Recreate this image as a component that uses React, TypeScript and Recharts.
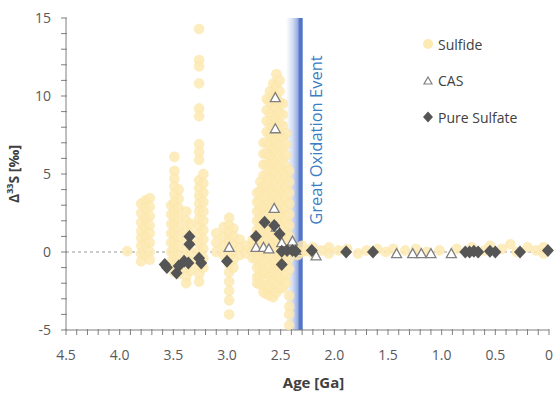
import React from 'react';
import { ScatterChart, Scatter, XAxis, YAxis, ReferenceLine, ReferenceArea, Label } from 'recharts';

// age axis (Ga), reversed: 4.5 on the left, 0 on the right
const xTicks = [
  0, 0.1, 0.2, 0.3, 0.4, 0.5, 0.6, 0.7, 0.8, 0.9, 1.0, 1.1, 1.2, 1.3, 1.4, 1.5,
  1.6, 1.7, 1.8, 1.9, 2.0, 2.1, 2.2, 2.3, 2.4, 2.5, 2.6, 2.7, 2.8, 2.9, 3.0,
  3.1, 3.2, 3.3, 3.4, 3.5, 3.6, 3.7, 3.8, 3.9, 4.0, 4.1, 4.2, 4.3, 4.4, 4.5,
];
const xLabels = [0, 0.5, 1.0, 1.5, 2.0, 2.5, 3.0, 3.5, 4.0, 4.5];
const yTicks = [-5, -4, -3, -2, -1, 0, 1, 2, 3, 4, 5, 6, 7, 8, 9, 10, 11, 12, 13, 14, 15];
const yLabels = [-5, 0, 5, 10, 15];

const seriesNames = ['Sulfide', 'CAS', 'Pure Sulfate'];

// sulfide: [age, Δ33S values measured at that age]
const sulfideColumns: [number, number[]][] = [
  [3.93, [0.05]],
  [3.8, [3.1, 2.5, 1.9, 1.35, 0.9, 0.4, -0.1, -0.6]],
  [3.76, [3.3, 2.8, 2.2, 1.6, 1.0, 0.5, -0.2]],
  [3.72, [3.45, 2.9, 2.3, 1.7, 1.2, 0.6, 0.0, -0.5]],
  [3.52, [3.0, 2.4, 1.8, 1.2, 0.6, 0.0, -0.6]],
  [3.49, [6.1, 5.2, 4.7, 4.2, 3.7, 3.2, 2.7, 2.2, 1.7, 1.2, 0.7, 0.2, -0.3, -0.8, -1.3]],
  [3.45, [4.0, 3.4, 2.8, 2.2, 1.6, 1.0, 0.4, -0.2, -0.8, -1.4]],
  [3.38, [2.6, 2.0, 1.4, 0.8, 0.2, -0.4, -1.0, -1.6, -2.0]],
  [3.34, [1.8, 1.2, 0.6, 0.0, -0.6, -1.2]],
  [3.26, [14.3, 12.3, 11.9, 10.8, 9.2, 8.7, 6.9, 6.4, 5.9, 4.6, 4.1, 3.6, 3.1, 2.6, 2.1, 1.6, 1.1, 0.6, 0.1, -0.4, -0.9, -1.4, -1.9]],
  [3.22, [5.0, 4.4, 3.8, 3.2, 2.6, 2.0, 1.4, 0.8, 0.2, -0.4, -1.0]],
  [3.1, [1.2, 0.6, 0.0]],
  [3.03, [1.6, 1.0, 0.4, -0.2]],
  [2.98, [2.2, 1.7, 1.2, 0.7, 0.2, -0.3, -0.8, -1.3, -1.9, -2.5, -3.1, -4.0]],
  [2.94, [1.5, 1.0, 0.5, 0.0, -0.5, -1.0]],
  [2.88, [0.8, 0.3, -0.2]],
  [2.82, [0.4, -0.1]],
  [2.76, [0.8, 0.4, 0.0, -0.4]],
  [2.72, [3.8, 3.2, 2.6, 2.0, 1.4, 0.8, 0.2, -0.4, -1.0, -1.6, -2.0]],
  [2.69, [4.5, 3.9, 3.3, 2.7, 2.1, 1.5, 0.9, 0.3, -0.3, -0.9, -1.5, -2.1]],
  [2.66, [7.0, 6.3, 5.6, 4.9, 4.2, 3.5, 2.8, 2.1, 1.4, 0.7, 0.0, -0.7, -1.4, -2.1, -2.6]],
  [2.63, [9.8, 9.1, 8.4, 7.7, 7.0, 6.3, 5.6, 4.9, 4.2, 3.5, 2.8, 2.1, 1.4, 0.7, 0.0, -0.7, -1.4, -2.1, -2.7]],
  [2.6, [10.3, 9.6, 8.9, 8.2, 7.5, 6.8, 6.1, 5.4, 4.7, 4.0, 3.3, 2.6, 1.9, 1.2, 0.5, -0.2, -0.9, -1.6, -2.3, -2.8]],
  [2.57, [10.8, 10.1, 9.4, 8.7, 8.0, 7.3, 6.6, 5.9, 5.2, 4.5, 3.8, 3.1, 2.4, 1.7, 1.0, 0.3, -0.4, -1.1, -1.8, -2.5, -2.9]],
  [2.54, [11.4, 10.7, 10.0, 9.3, 8.6, 7.9, 7.2, 6.5, 5.8, 5.1, 4.4, 3.7, 3.0, 2.3, 1.6, 0.9, 0.2, -0.5, -1.2, -1.9, -2.6]],
  [2.51, [11.0, 10.3, 9.6, 8.9, 8.2, 7.5, 6.8, 6.1, 5.4, 4.7, 4.0, 3.3, 2.6, 1.9, 1.2, 0.5, -0.2, -0.9, -1.6, -2.3]],
  [2.48, [9.5, 8.8, 8.1, 7.4, 6.7, 6.0, 5.3, 4.6, 3.9, 3.2, 2.5, 1.8, 1.1, 0.4, -0.3, -1.0, -1.7, -2.3]],
  [2.45, [7.6, 6.9, 6.2, 5.5, 4.8, 4.1, 3.4, 2.7, 2.0, 1.3, 0.6, -0.1, -0.8, -1.5, -2.0]],
  [2.42, [5.2, 4.5, 3.8, 3.1, 2.4, 1.7, 1.0, 0.3, -0.4, -1.1, -2.8, -3.5, -4.0, -4.7]],
  [2.38, [0.3]], [2.34, [-0.2]], [2.3, [0.4, 0.0]], [2.26, [0.1]], [2.2, [-0.1, 0.3]],
  [2.12, [0.1]], [2.05, [0.3, -0.1]], [1.96, [0.1]], [1.88, [0.2]], [1.78, [-0.1]],
  [1.7, [0.1]], [1.6, [0.2]], [1.52, [0.0]], [1.45, [0.2]], [1.34, [0.1]], [1.24, [0.2]],
  [1.14, [0.0]], [1.02, [0.1]], [0.86, [0.2]], [0.72, [0.3]], [0.6, [0.1]], [0.55, [0.4]],
  [0.44, [0.2]], [0.36, [0.5]], [0.3, [0.0]], [0.2, [0.3]], [0.12, [0.1]], [0.05, [0.3, -0.1]],
];

// carbonate-associated sulfate: [age, Δ33S]
const casPoints: [number, number][] = [
  [2.98, 0.3], [2.73, 0.3], [2.66, 0.3], [2.61, 0.2], [2.55, 9.9], [2.55, 7.9],
  [2.56, 2.8], [2.54, 1.6], [2.49, 0.6], [2.39, 0.7], [2.36, 0.1], [2.17, -0.25],
  [1.42, -0.1], [1.27, -0.1], [1.19, -0.1], [1.1, -0.1], [0.91, -0.1],
];

// pure sulfate: [age, Δ33S]
const sulfatePoints: [number, number][] = [
  [3.58, -0.8], [3.56, -1.0], [3.47, -1.35], [3.45, -0.9], [3.4, -0.6], [3.35, 1.0],
  [3.35, 0.5], [3.36, -0.7], [3.26, -0.4], [3.24, -0.7], [3.0, -0.6], [2.73, 1.0],
  [2.65, 1.9], [2.56, 1.7], [2.51, 1.15], [2.49, 0.05], [2.49, -0.8], [2.44, 0.1],
  [2.39, 0.1], [2.36, 0.05], [2.21, 0.1], [1.89, 0.0], [1.64, 0.0], [0.78, 0.0],
  [0.74, 0.0], [0.7, 0.05], [0.66, 0.0], [0.55, 0.05], [0.5, 0.0], [0.27, 0.0], [0.01, 0.1],
];

// Great Oxidation Event band (Ga)
const goeStart = 2.45;
const goeEnd = 2.295;

const sulfideData = sulfideColumns.flatMap(([age, vals]) => vals.map(v => ({ age, d33: v })));
const casData = casPoints.map(([age, d33]) => ({ age, d33 }));
const sulfateData = sulfatePoints.map(([age, d33]) => ({ age, d33 }));

const FONT = '"Open Sans", "Liberation Sans", sans-serif';
const AXIS = '#7f7f7f';
const TEXT = '#595959';
const SULFIDE = '#fde9b2';
const TICK_LEN = 5;
const X_MARGIN = 15;
const Y_MARGIN = 10;

const CircleDot = (p: any) => (
  <circle cx={p.cx} cy={p.cy} r={5} fill={SULFIDE} fillOpacity={0.85} stroke="#f9e2a0" strokeOpacity={0.35} strokeWidth={1} />
);

const TriDot = (p: any) => {
  const { cx, cy } = p;
  return (
    <polygon
      points={`${cx},${cy - 5} ${cx + 5},${cy + 4} ${cx - 5},${cy + 4}`}
      fill="#ffffff"
      stroke="#808080"
      strokeWidth={1.3}
    />
  );
};

const DiamondDot = (p: any) => {
  const { cx, cy } = p;
  return <polygon points={`${cx},${cy - 6.5} ${cx + 6},${cy} ${cx},${cy + 6.5} ${cx - 6},${cy}`} fill="#555555" />;
};

const isLabel = (v: number, list: number[]) => list.some(l => Math.abs(l - v) < 1e-6);

// tick marks drawn here too, since every tick gets one but only every 5th gets a label
const XTick = (props: any) => {
  const { x, y, payload } = props;
  const axisY = y - X_MARGIN - TICK_LEN;
  const show = isLabel(payload.value, xLabels);
  const txt = payload.value === 0 ? '0' : payload.value.toFixed(1);
  return (
    <g>
      <line x1={x} x2={x} y1={axisY - 1} y2={axisY + TICK_LEN} stroke={AXIS} strokeWidth={1} />
      {show && (
        <text x={x} y={y} dy="0.71em" textAnchor="middle" fill={TEXT} fontSize={14} fontFamily={FONT}>
          {txt}
        </text>
      )}
    </g>
  );
};

const YTick = (props: any) => {
  const { x, y, payload } = props;
  const axisX = x + Y_MARGIN + TICK_LEN;
  const show = isLabel(payload.value, yLabels);
  return (
    <g>
      <line x1={axisX - TICK_LEN} x2={axisX + 1} y1={y} y2={y} stroke={AXIS} strokeWidth={1} />
      {show && (
        <text x={x} y={y} dy="0.35em" textAnchor="end" fill={TEXT} fontSize={14} fontFamily={FONT}>
          {String(payload.value)}
        </text>
      )}
    </g>
  );
};

const LegendIcon = ({ kind }: { kind: number }) => (
  <svg width={14} height={14} style={{ marginRight: 3 }}>
    {kind === 0 && <circle cx={7} cy={7} r={5} fill={SULFIDE} />}
    {kind === 1 && <polygon points="7,3 11,10 3,10" fill="#fff" stroke="#808080" strokeWidth={1.2} />}
    {kind === 2 && <polygon points="7,1.5 12,7 7,12.5 2,7" fill="#555555" />}
  </svg>
);

export default function App() {
  return (
    <div style={{ position: 'absolute', left: 0, top: 0, width: 560, height: 396, background: '#fff' }}>
      <ScatterChart width={560} height={396} margin={{ top: 18, right: 11, bottom: 0, left: 0 }}>
        <defs>
          <linearGradient id="goeGrad" x1="0" y1="0" x2="1" y2="0">
            <stop offset="0%" stopColor="#ffffff" />
            <stop offset="40%" stopColor="#d3ddf3" />
            <stop offset="72%" stopColor="#95abe0" />
            <stop offset="78%" stopColor="#5a7bca" />
            <stop offset="100%" stopColor="#4a6ec6" />
          </linearGradient>
        </defs>
        <XAxis
          type="number"
          dataKey="age"
          domain={[0, 4.5]}
          reversed
          ticks={xTicks}
          interval={0}
          tickSize={TICK_LEN}
          tickMargin={X_MARGIN}
          stroke={AXIS}
          tickLine={false}
          tick={<XTick />}
          height={66}
        >
          <Label
            content={(p: any) => (
              <text
                x={p.viewBox.x + p.viewBox.width / 2 + 6}
                y={388}
                textAnchor="middle"
                fontSize={15}
                fontWeight="bold"
                fill="#404040"
                fontFamily={FONT}
              >
                Age [Ga]
              </text>
            )}
          />
        </XAxis>
        <YAxis
          type="number"
          dataKey="d33"
          domain={[-5, 15]}
          ticks={yTicks}
          interval={0}
          tickSize={TICK_LEN}
          tickMargin={Y_MARGIN}
          stroke={AXIS}
          tickLine={false}
          tick={<YTick />}
          width={66}
        >
          <Label
            content={(p: any) => {
              const cy = p.viewBox.y + p.viewBox.height / 2;
              return (
                <text
                  transform={`translate(19, ${cy}) rotate(-90)`}
                  textAnchor="middle"
                  fontSize={14}
                  fontWeight="bold"
                  fill="#404040"
                  fontFamily={FONT}
                >
                  Δ<tspan fontSize={9} dy={-6}>33</tspan>
                  <tspan dy={6}>S [‰]</tspan>
                </text>
              );
            }}
          />
        </YAxis>
        <ReferenceArea
          x1={goeStart}
          x2={goeEnd}
          fill="url(#goeGrad)"
          fillOpacity={1}
          stroke="none"
          ifOverflow="visible"
          label={(p: any) => (
            <text
              transform={`translate(${p.viewBox.x + p.viewBox.width + 19}, ${p.viewBox.y + 122}) rotate(-90)`}
              textAnchor="middle"
              fontSize={16.5}
              fill="#3b80c4"
              fontFamily={FONT}
            >
              Great Oxidation Event
            </text>
          )}
        />
        <ReferenceLine y={0} stroke="#9a9a9a" strokeDasharray="3 3" />
        <Scatter name={seriesNames[0]} data={sulfideData} shape={CircleDot} isAnimationActive={false} />
        <Scatter name={seriesNames[1]} data={casData} shape={TriDot} isAnimationActive={false} />
        <Scatter name={seriesNames[2]} data={sulfateData} shape={DiamondDot} isAnimationActive={false} />
      </ScatterChart>
      <div style={{ position: 'absolute', left: 421, top: 26, fontFamily: FONT, fontSize: 14, color: '#404040' }}>
        {seriesNames.map((n, i) => (
          <div key={n} style={{ display: 'flex', alignItems: 'center', height: 36.5 }}>
            <LegendIcon kind={i} />
            <span>{n}</span>
          </div>
        ))}
      </div>
    </div>
  );
}
